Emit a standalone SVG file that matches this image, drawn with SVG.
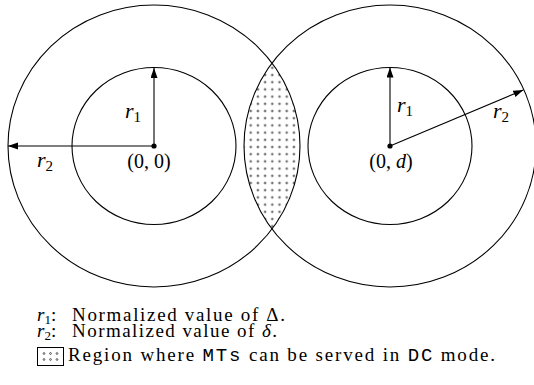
<svg xmlns="http://www.w3.org/2000/svg" width="534" height="385" viewBox="0 0 534 385">
<style>
.c{fill:none;stroke:#000;stroke-width:1.1}
.a{fill:none;stroke:#000;stroke-width:1.1}
.t{font-family:'Liberation Serif','DejaVu Serif',serif;fill:#000}
.m{font-family:'Liberation Serif','DejaVu Serif',serif;font-style:italic;fill:#000}
.tt{font-family:'Liberation Mono','DejaVu Sans Mono',monospace;fill:#000}
.d{fill:#fff;stroke:#000;stroke-width:0.6}
</style>
<defs>
<pattern id="dots" patternUnits="userSpaceOnUse" x="268.7" y="71.4" width="7.2" height="7.2">
<circle cx="3.6" cy="3.6" r="0.9" class="d"/>
</pattern>
<marker id="ah" markerUnits="userSpaceOnUse" markerWidth="11" markerHeight="8" refX="10" refY="3.5" orient="auto" viewBox="0 0 11 8">
<path d="M0,0 L10,3.5 L0,7 z" fill="#000"/>
</marker>
</defs>
<g id="lens">
<path d="M272,63 A146,141 0 0 0 272,229 A146,141 0 0 0 272,63 Z" fill="url(#dots)" stroke="none"/>
</g>
<g id="left-node">
<ellipse class="c" cx="154" cy="146" rx="146" ry="141"/>
<ellipse class="c" cx="154" cy="146" rx="82" ry="78.5"/>
<circle cx="154" cy="146" r="2.6" fill="#000"/>
<text class="t" x="149" y="168" font-size="20" text-anchor="middle">(0, 0)</text>
</g>
<g id="right-node">
<ellipse class="c" cx="390" cy="146" rx="146" ry="141"/>
<ellipse class="c" cx="390" cy="146" rx="82" ry="78.5"/>
<circle cx="390" cy="146" r="2.6" fill="#000"/>
<text class="t" x="391" y="168" font-size="20" text-anchor="middle">(0, <tspan font-style="italic">d</tspan>)</text>
</g>
<g id="connectors">
<line class="a" x1="154" y1="146" x2="154" y2="68" marker-end="url(#ah)"/>
<line class="a" x1="154" y1="146" x2="8" y2="146" marker-end="url(#ah)"/>
<line class="a" x1="390" y1="146" x2="390" y2="67.5" marker-end="url(#ah)"/>
<line class="a" x1="390" y1="146" x2="523.3" y2="90" marker-end="url(#ah)"/>
</g>
<g id="labels">
<text class="m" x="125" y="118" font-size="22">r<tspan font-style="normal" font-size="15" dy="4">1</tspan></text>
<text class="m" x="37" y="167" font-size="22">r<tspan font-style="normal" font-size="15" dy="4">2</tspan></text>
<text class="m" x="397" y="112" font-size="22">r<tspan font-style="normal" font-size="15" dy="4">1</tspan></text>
<text class="m" x="493" y="118" font-size="22">r<tspan font-style="normal" font-size="15" dy="4">2</tspan></text>
</g>
<g id="legend">
<text class="m" x="37" y="321" font-size="19">r<tspan font-style="normal" font-size="13" dy="3">1</tspan><tspan font-style="normal" dy="-3">:</tspan></text>
<text class="t" x="72" y="321" font-size="19" textLength="213" lengthAdjust="spacing">Normalized value of Δ.</text>
<text class="m" x="37" y="337" font-size="19">r<tspan font-style="normal" font-size="13" dy="3">2</tspan><tspan font-style="normal" dy="-3">:</tspan></text>
<text class="t" x="72" y="337" font-size="19" textLength="205" lengthAdjust="spacing">Normalized value of <tspan font-style="italic">δ</tspan>.</text>
<rect x="37.5" y="347.5" width="26" height="18" fill="#fff" stroke="#000" stroke-width="1"/>
<g class="d">
<circle cx="44" cy="353.5" r="0.9"/><circle cx="50.5" cy="353.5" r="0.9"/><circle cx="57" cy="353.5" r="0.9"/>
<circle cx="44" cy="359.5" r="0.9"/><circle cx="50.5" cy="359.5" r="0.9"/><circle cx="57" cy="359.5" r="0.9"/>
</g>
<text class="t" x="68" y="361" font-size="19" textLength="427" lengthAdjust="spacing">Region where <tspan class="tt">MTs</tspan> can be served in <tspan class="tt">DC</tspan> mode.</text>
</g>
</svg>
